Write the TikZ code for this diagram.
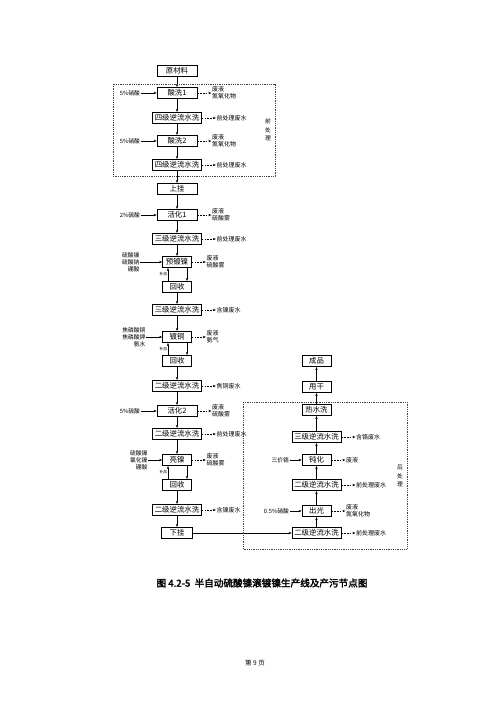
\documentclass[tikz,border=0pt]{standalone}
\usepackage{fontspec}
\setmainfont{Noto Sans CJK SC}[AutoFakeBold=2.5]
\usepackage{tikz}
\usetikzlibrary{positioning, arrows.meta}

\begin{document}
\begin{tikzpicture}[
  x=1pt, y=-1pt,
  >={Stealth[length=3pt, width=2.4pt]},
  every node/.style={font=\fontsize{7.4}{8}\selectfont}
]
\tikzset{
  box/.style   ={draw=black, line width=0.7pt, align=center, inner sep=1pt,
                 minimum height=11.5pt},
  sbox/.style  ={box, minimum width=29pt},
  mbox/.style  ={box, minimum width=40pt},
  lbox/.style  ={box, minimum width=49pt},
  arr/.style   ={->, line width=0.5pt},
  darr/.style  ={arr, dash pattern=on 1.6pt off 1.2pt},
  inlab/.style ={font=\fontsize{5.8}{7}\selectfont, align=right, inner sep=0.5pt},
  outlab/.style={font=\fontsize{6}{7.4}\selectfont, align=left, inner sep=0.5pt},
  addlab/.style={font=\fontsize{3.8}{4}\selectfont, inner sep=0.5pt},
  side/.style  ={font=\fontsize{5.8}{8.5}\selectfont, align=center, inner sep=0pt},
  group/.style ={draw=black!75, line width=0.5pt, dash pattern=on 1pt off 0.8pt}
}
\useasboundingbox (0,0) rectangle (500,707);

%% ----- Main line (left column) -----
\node[mbox] (yl)   at (177,71)  {原材料};
\node[mbox] (sx1)  at (177,93)  {酸洗1};
\node[lbox] (sx1w) at (177,118) {四级逆流水洗};
\node[mbox] (sx2)  at (177,141) {酸洗2};
\node[lbox] (sx2w) at (177,165) {四级逆流水洗};
\node[mbox] (sg)   at (177,189) {上挂};
\node[mbox] (hh1)  at (177,215) {活化1};
\node[lbox] (hh1w) at (177,239) {三级逆流水洗};
\node[sbox] (ydn)  at (177,262) {预镀镍};
\node[sbox] (hs1)  at (177,287) {回收};
\node[lbox] (ydnw) at (177,310) {三级逆流水洗};
\node[sbox] (dt)   at (177,337) {镀铜};
\node[sbox] (hs2)  at (177,361) {回收};
\node[lbox] (dtw)  at (177,386) {二级逆流水洗};
\node[mbox] (hh2)  at (177,411) {活化2};
\node[lbox] (hh2w) at (177,434) {二级逆流水洗};
\node[sbox] (ln)   at (177,460) {亮镍};
\node[sbox] (hs3)  at (177,485) {回收};
\node[lbox] (lnw)  at (177,510) {二级逆流水洗};
\node[sbox, minimum width=31pt] (xg) at (177,533) {下挂};

\foreach \a/\b in {yl/sx1, sx1/sx1w, sx1w/sx2, sx2/sx2w, sx2w/sg, sg/hh1,
                   hh1/hh1w, hh1w/ydn, hs1/ydnw, ydnw/dt, hs2/dtw, dtw/hh2,
                   hh2/hh2w, hh2w/ln, hs3/lnw, lnw/xg}
  \draw[arr] (\a) -- (\b);

%% ----- Plating tank <-> recovery -----
\foreach \p/\r in {ydn/hs1, dt/hs2, ln/hs3} {
  \draw[arr] ([xshift=10pt]\p.south) -- ([xshift=10pt]\r.north);
  \draw[arr] ([xshift=-9pt]\r.north) -- ([xshift=-9pt]\p.south)
    node[addlab, midway, left] {补加};
}

%% ----- Inputs -----
\node[inlab, left=16pt of sx1] (i1) {5\%硝酸};
\node[inlab, left=16pt of sx2] (i2) {5\%硝酸};
\node[inlab, left=16pt of hh1] (i3) {2\%硫酸};
\node[inlab, left=22pt of ydn] (i4) {硫酸镍\\硫酸钠\\硼酸};
\node[inlab, left=16pt of dt]  (i5) {焦磷酸铜\\焦磷酸钾\\氨水};
\node[inlab, left=16pt of hh2] (i6) {5\%硫酸};
\node[inlab, left=14pt of ln]  (i7) {硫酸镍\\氯化镍\\硼酸};
\foreach \i/\b in {i1/sx1, i2/sx2, i3/hh1, i4/ydn, i5/dt, i6/hh2, i7/ln}
  \draw[arr] (\i.east) -- (\b.west);

%% ----- Outputs -----
\node[outlab, right=14pt of sx1]  (o1)  {废液\\氮氧化物};
\node[outlab, right=14pt of sx1w] (o2)  {前处理废水};
\node[outlab, right=14pt of sx2]  (o3)  {废液\\氮氧化物};
\node[outlab, right=14pt of sx2w] (o4)  {前处理废水};
\node[outlab, right=14pt of hh1]  (o5)  {废液\\硫酸雾};
\node[outlab, right=14pt of hh1w] (o6)  {前处理废水};
\node[outlab, right=14pt of ydn]  (o7)  {废液\\硫酸雾};
\node[outlab, right=14pt of ydnw] (o8)  {含镍废水};
\node[outlab, right=14pt of dt]   (o9)  {废液\\氨气};
\node[outlab, right=14pt of dtw]  (o10) {焦铜废水};
\node[outlab, right=14pt of hh2]  (o11) {废液\\硫酸雾};
\node[outlab, right=14pt of hh2w] (o12) {前处理废水};
\node[outlab, right=14pt of ln]   (o13) {废液\\硫酸雾};
\node[outlab, right=14pt of lnw]  (o14) {含镍废水};
\foreach \b/\o in {sx1/o1, sx1w/o2, sx2/o3, sx2w/o4, hh1/o5, hh1w/o6, ydn/o7,
                   ydnw/o8, dt/o9, dtw/o10, hh2/o11, hh2w/o12, ln/o13, lnw/o14}
  \draw[darr] (\b.east) -- (\o.west);

%% ----- After-treatment (right column, upwards) -----
\node[sbox] (cp)   at (316.5,361) {成品};
\node[sbox] (sgan) at (316.5,387) {甩干};
\node[sbox] (rsx)  at (316.5,410) {热水洗};
\node[lbox] (dhw)  at (316.5,437) {三级逆流水洗};
\node[sbox] (dh)   at (316.5,460) {钝化};
\node[lbox] (dhw2) at (316.5,485) {二级逆流水洗};
\node[sbox] (cg)   at (316.5,511) {出光};
\node[lbox] (cgw)  at (316.5,533) {二级逆流水洗};

\draw[arr] (xg) -- (cgw);
\foreach \a/\b in {cgw/cg, cg/dhw2, dhw2/dh, dh/dhw, dhw/rsx, rsx/sgan, sgan/cp}
  \draw[arr] (\a) -- (\b);

\node[inlab, left=12pt of dh] (i8) {三价铬};
\node[inlab, left=12pt of cg] (i9) {0.5\%硝酸};
\draw[arr] (i8.east) -- (dh.west);
\draw[arr] (i9.east) -- (cg.west);

\node[outlab, right=14pt of dhw]  (o15) {含铬废水};
\node[outlab, right=14pt of dh]   (o16) {废液};
\node[outlab, right=14pt of dhw2] (o17) {前处理废水};
\node[outlab, right=14pt of cg]   (o18) {废液\\氮氧化物};
\node[outlab, right=14pt of cgw]  (o19) {前处理废水};
\foreach \b/\o in {dhw/o15, dh/o16, dhw2/o17, cg/o18, cgw/o19}
  \draw[darr] (\b.east) -- (\o.west);

%% ----- Groups -----
\draw[group] (113,84) rectangle (275,176);
\node[side] (pre) at (268,130) {前\\处\\理};
\draw[group] (243,402) rectangle (407,549);
\node[side] (post) at (400,476) {后\\处\\理};

%% ----- Caption -----
\node[font=\fontsize{9.6}{10}\selectfont\bfseries] (cap) at (262,583)
  {图 4.2-5\ \ 半自动硫酸镍滚镀镍生产线及产污节点图};
\node[font=\fontsize{6.5}{7}\selectfont] (pg) at (255,663) {第 9 页};

\end{tikzpicture}
\end{document}
